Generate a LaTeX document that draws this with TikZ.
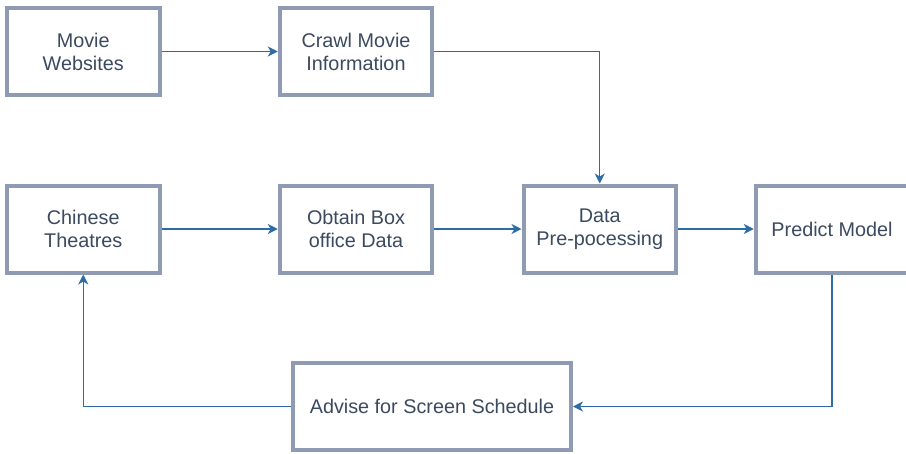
\documentclass[tikz,border=0pt]{standalone}
\usepackage{fontspec}
\setmainfont{Liberation Sans}
\usetikzlibrary{arrows.meta}
\definecolor{boxc}{HTML}{8E9BB2}
\definecolor{arrc}{HTML}{2E6DA4}
\definecolor{txtc}{HTML}{3B4A5E}
\begin{document}
\begin{tikzpicture}[x=1pt,y=-1pt,
  box/.style={draw=boxc, line width=4pt, fill=white, text=txtc, align=center,
    minimum width=152.5pt, minimum height=87pt, inner sep=0pt,
    font=\fontsize{19.8pt}{23pt}\selectfont},
  conn/.style={draw=arrc, line width=1.4pt, -{Stealth[length=10pt,width=10pt,inset=3pt]}}]
\useasboundingbox (0,0) rectangle (906,453);
\node[box] (mw) at (83.25,51.5) {Movie\\Websites};
\node[box] (cm) at (356,51.5) {Crawl Movie\\Information};
\node[box] (ct) at (83.25,229) {Chinese\\Theatres};
\node[box] (ob) at (356,229) {Obtain Box\\office Data};
\node[box] (dp) at (599.75,229) {Data\\Pre-pocessing};
\node[box] (pm) at (832,229) {Predict Model};
\node[box, minimum width=278pt] (ad) at (432,406.5) {Advise for Screen Schedule};
\draw[conn] (mw) -- (cm);
\draw[conn] (cm.east) -| (dp.north);
\draw[conn] (ct) -- (ob);
\draw[conn] (ob) -- (dp);
\draw[conn] (dp) -- (pm);
\draw[conn] (pm.south) |- (ad.east);
\draw[conn] (ad.west) -| (ct.south);
\end{tikzpicture}
\end{document}
